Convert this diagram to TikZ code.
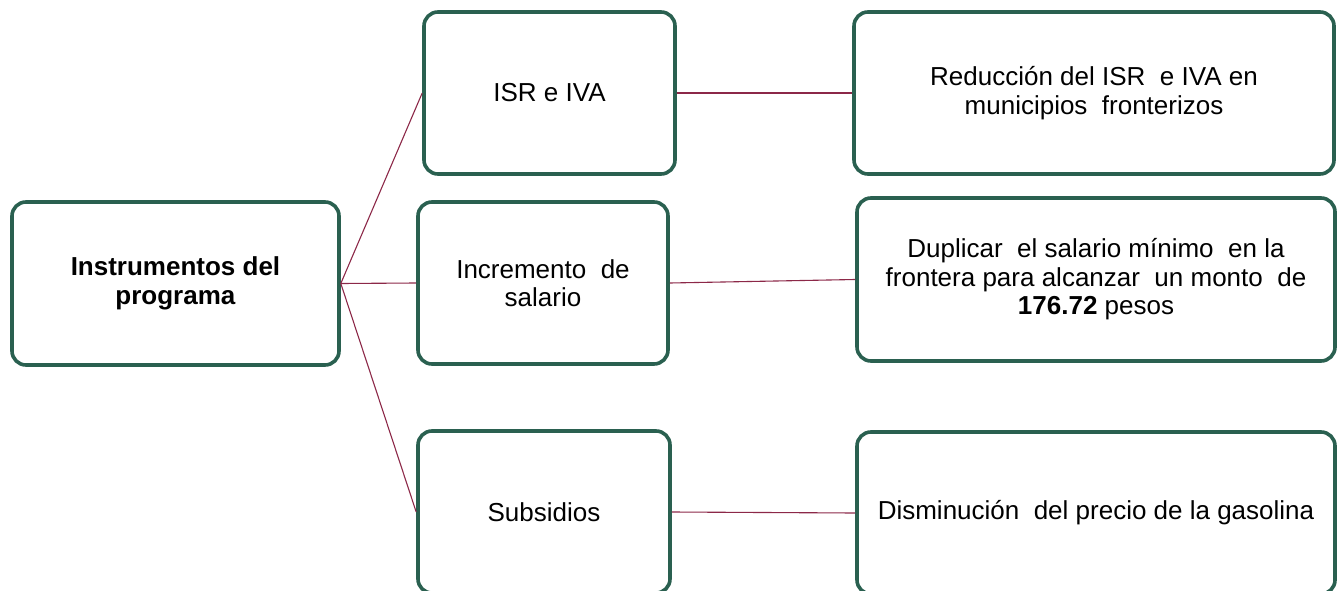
\documentclass[tikz,border=0pt]{standalone}
\usepackage{fontspec}
\setmainfont{Liberation Sans}
\definecolor{boxgreen}{RGB}{42,96,80}
\definecolor{linkred}{RGB}{140,40,72}
\begin{document}
\begin{tikzpicture}[x=1pt,y=-1pt,
  box/.style={draw=boxgreen,line width=3.6pt,rounded corners=14pt,fill=white,
    inner sep=0pt,align=center,font=\fontsize{26}{28.5}\selectfont},
  link/.style={draw=linkred,line width=1.1pt}]
\useasboundingbox (0,0) rectangle (1340,591);
\clip (0,0) rectangle (1340,591);
\node[box,minimum width=327pt,minimum height=163pt] (main) at (175.5,283.5)
  {\textbf{Instrumentos del}\\\textbf{programa}};
\node[box,minimum width=251pt,minimum height=162pt] (isr) at (549.5,93) {ISR e IVA};
\node[box,minimum width=250pt,minimum height=162pt] (inc) at (543,283) {Incremento\ \ de\\salario};
\node[box,minimum width=252pt,minimum height=162pt] (sub) at (544,512) {Subsidios};
\node[box,minimum width=480pt,minimum height=162pt] (red) at (1094,93)
  {Reducción del ISR\ \ e IVA en\\municipios\ \ fronterizos};
\node[box,minimum width=478pt,minimum height=163pt] (dup) at (1096,279.5)
  {Duplicar\ \ el salario mínimo\ \ en la\\frontera para alcanzar\ \ un monto\ \ de\\\textbf{176.72} pesos};
\node[box,minimum width=478pt,minimum height=162pt] (dis) at (1096,513)
  {Disminución\ \ del precio de la gasolina};
\draw[link] (main.east) -- (isr.west);
\draw[link] (main.east) -- (inc.west);
\draw[link] (main.east) -- (sub.west);
\draw[link] (isr.east) -- (red.west);
\draw[link] (inc.east) -- (dup.west);
\draw[link] (sub.east) -- (dis.west);
\end{tikzpicture}
\end{document}
